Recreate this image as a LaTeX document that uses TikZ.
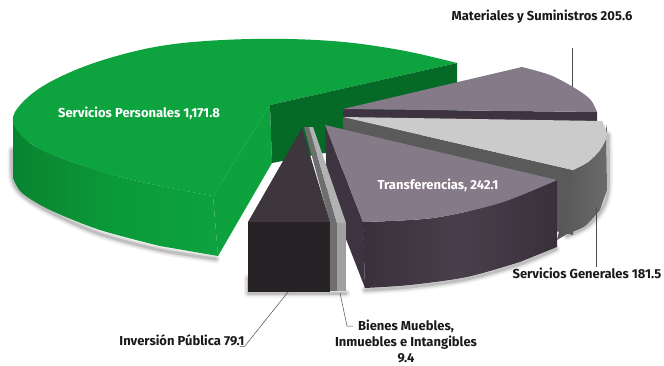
\documentclass[tikz,border=0pt]{standalone}
\usepackage{fontspec}
\setmainfont{Fira Sans}
\usetikzlibrary{calc}
\definecolor{gtop}{HTML}{0DA33E}
\definecolor{gside}{HTML}{0B9A39}
\definecolor{gcut}{HTML}{0EA23F}
\definecolor{gdark}{HTML}{056A26}
\definecolor{ptop}{HTML}{857A88}
\definecolor{pdark}{HTML}{3E3441}
\definecolor{pfront}{HTML}{3A303C}
\definecolor{sgtop}{HTML}{CBCBCB}
\definecolor{sgstrip}{HTML}{5A5A5A}
\definecolor{sgside}{HTML}{6B6B6B}
\definecolor{btop}{HTML}{3D363C}
\definecolor{bfront}{HTML}{262225}
\definecolor{bdark}{HTML}{6E6E6E}
\definecolor{blight}{HTML}{B2B2B2}
\definecolor{txt}{HTML}{1A1A1A}
\newlength\numw
\tikzset{
  lab/.style={font=\bfseries\fontsize{13}{16}\selectfont, text=txt, inner sep=0pt},
  wlab/.style={font=\bfseries\fontsize{13}{16}\selectfont, text=white, inner sep=0pt},
  leader/.style={draw=black!70, line width=0.5pt},
  softshadow/.style={draw=black, line cap=round, line join=round},
}
\begin{document}
\begin{tikzpicture}[x=1pt,y=-1pt]
\useasboundingbox (0,0) rectangle (664,365);
\fill[white] (0,0) rectangle (664,365);
% soft shadows (drawn below the solids)
\foreach \w/\o in {9/0.05,6/0.08,3/0.14}{
  \draw[softshadow, line width=\w pt, opacity=\o] plot[smooth] coordinates {(12,150) (13,180) (24,196) (52,213) (100,234) (160,250) (216,259)};
  \draw[softshadow, line width=\w pt, opacity=\o] (248,278) -- (248,293) -- (346,293);
  \draw[softshadow, line width=\w pt, opacity=\o] plot[smooth] coordinates {(365,290) (410,287) (467,279) (520,264) (556,249)};
  \draw[softshadow, line width=\w pt, opacity=\o] plot[smooth] coordinates {(608,135) (608,190) (601,211) (586,227) (567,236)};
}
% ---------- Servicios Personales (green) ----------
\shade[left color=gside!85!black, right color=gtop, middle color=gside] plot[smooth] coordinates {(13,120) (30,143) (67,160) (133,180) (213,196)} -- (218,256) -- plot[smooth] coordinates {(160,246) (100,230) (50,210) (22,193) (13,178)} -- cycle;
\fill[gcut] (213,196) -- (270,105) -- (272,163) -- (218,256) -- cycle;
\fill[gtop] (270,105) -- plot[smooth,tension=0.6] coordinates {(457,63) (400,50) (332,41) (250,39) (167,45) (100,61) (50,82) (22,103) (13,122) (30,143) (67,160) (133,180) (213,196)} -- cycle;
\fill[gdark] (270,105) -- (457,63) -- (457,128) -- (272,163) -- cycle;
% ---------- Materiales y Suministros ----------
\fill[pdark] (343,109) -- (597,112) -- (597,130) -- (343,128) -- cycle;
\fill[ptop] (343,109) -- plot[smooth] coordinates {(522,67) (550,75) (573,87) (590,99) (597,112)} -- cycle;
% ---------- Servicios Generales ----------
\fill[sgstrip] (343,117) -- (573,170) -- (573,235) -- (343,183) -- cycle;
\shade[left color=sgside!80!black, right color=sgside] plot[smooth] coordinates {(573,170) (588,162) (600,150) (607,135) (606,124)} -- (607,190) -- plot[smooth] coordinates {(600,210) (585,226) (567,234)} -- (557,240) -- cycle;
\fill[sgtop] (343,117) -- plot[smooth] coordinates {(602,121) (607,135) (600,150) (588,162) (573,170)} -- cycle;
% ---------- Transferencias ----------
\fill[pdark] (325,125) -- (363,222) -- (365,288) -- (327,190) -- cycle;
\shade[left color=pfront, right color=pfront, middle color=pfront!80!ptop] plot[smooth] coordinates {(363,222) (433,218) (500,203) (557,180)} -- (557,247) -- plot[smooth] coordinates {(520,262) (467,277) (410,285) (365,288)} -- cycle;
\fill[ptop] (325,125) -- plot[smooth] coordinates {(557,180) (500,203) (433,218) (363,222)} -- cycle;
% ---------- Bienes Muebles ----------
\fill[bdark] (304,127) -- (309,127) -- (337,223) -- (330,223) -- cycle;
\fill[blight] (309,127) -- (313,127) -- (346,223) -- (337,223) -- cycle;
\fill[bdark] (330,223) rectangle (337,291);
\fill[blight!90!black] (337,223) rectangle (346,291);
% ---------- Inversion Publica ----------
\fill[btop] (302,128) -- (330,222) -- (248,222) -- cycle;
\fill[bfront] (248,222) -- (330,222) -- (330,292) -- (248,292) -- cycle;
% ---------- labels ----------
\node[wlab] (sp) at (139,113) {Servicios Personales 1,171.8};
\node[wlab] (tr) at (438,185) {Transferencias, 242.1};
\node[lab] (mat) at (542,17) {Materiales y Suministros 205.6};
\coordinate (matp) at (572,87);
\coordinate (matq) at (572,48);
\draw[leader] (matp) -- (matq);
\node[lab] (sg) at (587,273) {Servicios Generales 181.5};
\coordinate (sgp) at (596,207);
\draw[leader] (sgp) -- (sgp |- sg.north);
\node[lab] (inv) at (182,340) {Inversión Pública 79.1};
\settowidth\numw{\bfseries\fontsize{13}{16}\selectfont 79.1}
\coordinate (invp) at (288,292);
\coordinate (invq) at ($(inv.base east)+(-\numw,-1pt)$);
\coordinate (invr) at ($(invq)+(-5,0)$);
\draw[leader] (invp) -- (invq) -- (invr);
\node[lab, align=center] (bie) at (406,341) {Bienes Muebles,\\Inmuebles e Intangibles\\9.4};
\coordinate (biep) at (340,293);
\coordinate (bieq) at (347,326);
\coordinate (bier) at (353,326);
\draw[leader] (biep) -- (bieq) -- (bier);
\end{tikzpicture}
\end{document}
